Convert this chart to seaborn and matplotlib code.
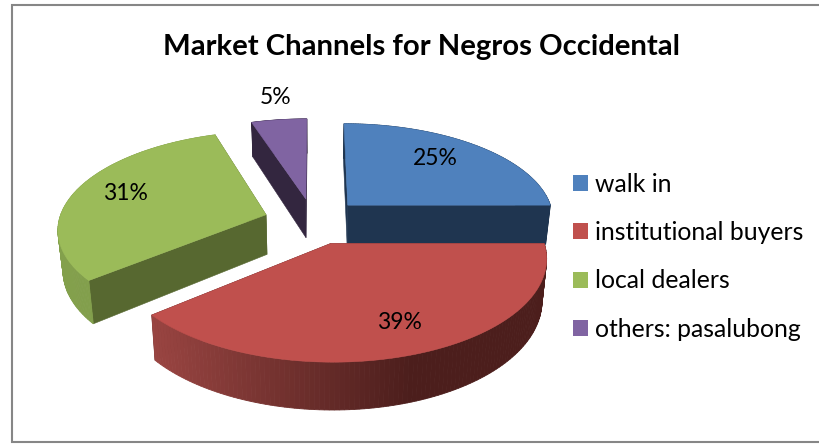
import numpy as np
import matplotlib
matplotlib.use("Agg")
import matplotlib.pyplot as plt
from matplotlib.patches import Patch, Polygon
import seaborn as sns

# Market share per channel, in percent
channels = ["walk in", "institutional buyers", "local dealers", "others: pasalubong"]
shares = [25, 39, 31, 5]

top_colors = ["#4F81BD", "#C0504D", "#9BBB59", "#8064A2"]
cut_colors = ["#1F3550", "#4A1D1C", "#576830", "#33263F"]
rim_light = ["#1F3550", "#9A4542", "#83A04C", "#33263F"]
rim_dark = ["#1F3550", "#4C1E1C", "#7A9446", "#33263F"]
label_xy = [(435, 158), (399, 322), (125, 193), (276, 97)]

# Perspective set-up of the pie plane, expressed in figure pixels
VANISH_X, VANISH_Y = 315.0, -500.0
PLANE_Y = 224.0
SCALE_U = 208.0
TILT = 0.134
EXPLODE = 0.24
ORIGIN_U = -0.008
ORIGIN_V = 0.03
DEPTH_Y = 1.0555
DEPTH_X = 0.98

sns.set_theme(style="white")
plt.rcParams["font.family"] = ["Lato", "DejaVu Sans"]

fig = plt.figure(figsize=(8.2, 4.44), dpi=100, facecolor="white")
ax = fig.add_axes([0, 0, 1, 1])
ax.set_xlim(0, 820)
ax.set_ylim(444, 0)
ax.axis("off")


def project(u, v):
    """Map pie-plane coordinates to pixels on the upper face."""
    w = 1.0 / (1.0 + TILT * v)
    return VANISH_X + SCALE_U * u * w, VANISH_Y + (PLANE_Y - VANISH_Y) * w


def lower(x, y):
    """Push projected points down to the lower face of the pie."""
    return VANISH_X + (x - VANISH_X) * DEPTH_X, VANISH_Y + (y - VANISH_Y) * DEPTH_Y


def blend(c1, c2, t):
    a, b = np.array(matplotlib.colors.to_rgb(c1)), np.array(matplotlib.colors.to_rgb(c2))
    return tuple(a + (b - a) * np.clip(t, 0, 1))


edges = np.concatenate([[0], np.cumsum(shares)]) / np.sum(shares) * 2 * np.pi
slices = []
for i in range(len(shares)):
    a0, a1 = edges[i], edges[i + 1]
    mid = (a0 + a1) / 2
    off_u = EXPLODE * np.sin(mid) + ORIGIN_U
    off_v = EXPLODE * np.cos(mid) + ORIGIN_V
    theta = np.linspace(a0, a1, 120)
    arc = project(off_u + np.sin(theta), off_v + np.cos(theta))
    apex = project(off_u, off_v)
    slices.append((i, np.array(apex), np.array(arc).T))

# Back slices first so the nearer ones overlap them
for i, apex, arc in [slices[3], slices[2], slices[0], slices[1]]:
    lo_apex = np.array(lower(*apex))
    lo_arc = np.array(lower(arc[:, 0], arc[:, 1])).T
    # the two cut faces
    for k in (0, -1):
        face = [apex, arc[k], lo_arc[k], lo_apex]
        ax.add_patch(Polygon(face, closed=True, fc=cut_colors[i], ec=cut_colors[i], lw=0.4, zorder=2))
    # outer rim, shaded strip by strip from left to right
    x_left, x_dark = arc[:, 0].min(), 413.0
    for j in range(len(arc) - 1):
        t = (arc[j, 0] - x_left) / max(x_dark - x_left, 1)
        col = blend(rim_light[i], rim_dark[i], t)
        strip = [arc[j], arc[j + 1], lo_arc[j + 1], lo_arc[j]]
        ax.add_patch(Polygon(strip, closed=True, fc=col, ec=col, lw=0.6, zorder=2))
    ax.add_patch(Polygon(np.vstack([apex, arc]), closed=True, fc=top_colors[i],
                         ec=top_colors[i], lw=0.4, zorder=2))

for value, (lx, ly) in zip(shares, label_xy):
    ax.text(lx, ly, f"{value}%", ha="center", va="center", fontsize=16.5, color="black", zorder=5)

ax.text(421.5, 47, "Market Channels for Negros Occidental", ha="center", va="center",
        fontsize=21.1, fontweight="bold", color="black")

handles = [Patch(fc=c, ec="none") for c in top_colors]
fs = 17.8
em = fs * 100 / 72
ax.legend(handles, channels, loc="upper left", bbox_to_anchor=(566 / 820, 1 - 165.5 / 444),
          frameon=False, fontsize=fs, handlelength=15 / em, handleheight=15 / em,
          handletextpad=0.285, labelspacing=1.03, borderpad=7 / em, borderaxespad=0,
          labelcolor="black")

# Chart frame: the right side runs off the canvas
ax.plot([820, 12, 12, 820], [5, 5, 442, 442], color="#868686", lw=1.5, solid_joinstyle="miter", zorder=6)

fig.savefig("out.png", dpi=100)
